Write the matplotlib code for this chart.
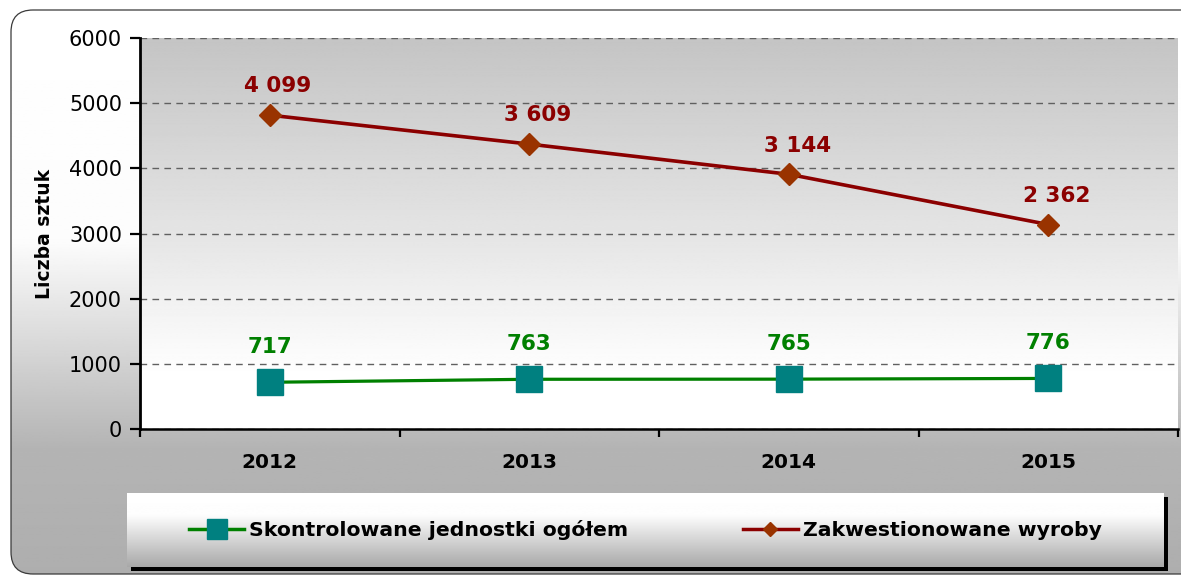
import numpy as np
import matplotlib
matplotlib.use("Agg")
import matplotlib.pyplot as plt
from matplotlib.patches import FancyBboxPatch, Rectangle
from matplotlib.lines import Line2D

# data
years = ["2012", "2013", "2014", "2015"]
skontrolowane = [717, 763, 765, 776]
zakwestionowane = [4099, 3609, 3144, 2362]
series_names = ["Skontrolowane jednostki ogółem", "Zakwestionowane wyroby"]
y_ticks = [0, 1000, 2000, 3000, 4000, 5000, 6000]

W, H = 1181, 575


def box(x0, y0, x1, y1):
    # pixel box (top-left origin) -> figure fraction
    return [x0 / W, 1 - y1 / H, (x1 - x0) / W, (y1 - y0) / H]


def vgrad(levels, n=400):
    # vertical gray ramp, levels given as (position 0..1, gray 0..255)
    t = np.linspace(0, 1, n)
    pos, val = zip(*levels)
    g = np.interp(t, pos, val) / 255.0
    return np.repeat(g[:, None], 2, axis=1)


plt.rcParams["font.family"] = ["DejaVu Sans"]
fig = plt.figure(figsize=(W / 100, H / 100), dpi=100)

# ---- outer chart area with rounded frame
ax_bg = fig.add_axes([0, 0, 1, 1])
ax_bg.set_xlim(0, W)
ax_bg.set_ylim(H, 0)
ax_bg.axis("off")
frame = FancyBboxPatch((11, 10), 1215 - 11, 574 - 10,
                       boxstyle="round,pad=0,rounding_size=22",
                       fc="none", ec="#3a3a3a", lw=0.9, zorder=3)
ax_bg.add_patch(frame)
im = ax_bg.imshow(vgrad([(0, 255), (0.42, 252), (0.78, 180), (1, 174)]),
                  extent=(0, W, H, 0), aspect="auto", cmap="gray",
                  vmin=0, vmax=1, zorder=1)
im.set_clip_path(frame)

# legend shadow
ax_bg.add_patch(Rectangle((131, 497), 1168 - 131, 571 - 497, fc="black", ec="none", zorder=2))

# ---- main plot
ax = fig.add_axes(box(140, 38, 1178, 429))
x = np.arange(len(years))
ax.set_xlim(-0.5, len(years) - 0.5)
ax.set_ylim(0, 6000)
ax.imshow(vgrad([(0, 196), (0.45, 225), (0.85, 254), (1, 255)]),
          extent=(-0.5, len(years) - 0.5, 0, 6000), aspect="auto",
          cmap="gray", vmin=0, vmax=1, zorder=-1)

# stacked line chart: second series sits on top of the first
green = np.array(skontrolowane)
red = green + np.array(zakwestionowane)

ax.plot(x, green, color="#008000", lw=2.3, marker="s", ms=18.5,
        mfc="#008080", mec="#008080", zorder=4)
ax.plot(x, red, color="#8B0000", lw=2.6, marker="D", ms=11,
        mfc="#993300", mec="#993300", zorder=4)

for xi, yi, v in zip(x, green, skontrolowane):
    ax.annotate(f"{v:,}".replace(",", " "), (xi, yi), xytext=(0, 18),
                textcoords="offset points", ha="center", va="bottom",
                fontsize=15.5, fontweight="bold", color="#008000", zorder=5)
for xi, yi, v in zip(x, red, zakwestionowane):
    ax.annotate(f"{v:,}".replace(",", " "), (xi, yi), xytext=(6, 13.5),
                textcoords="offset points", ha="center", va="bottom",
                fontsize=15.5, fontweight="bold", color="#8B0000", zorder=5)

ax.set_yticks(y_ticks)
ax.set_yticklabels([str(t) for t in y_ticks])
ax.tick_params(axis="y", length=7, width=1.6, pad=6, labelsize=15)
ax.set_xticks(x)
ax.set_xticklabels(years, fontweight="bold")
ax.tick_params(axis="x", which="major", length=0, pad=17, labelsize=14.5)
ax.set_xticks(np.arange(len(years) + 1) - 0.5, minor=True)
ax.tick_params(axis="x", which="minor", length=6, width=1.6)

ax.yaxis.grid(True, color="#606060", lw=1.0, linestyle=(0, (4.8, 3.8)))
ax.set_axisbelow(True)
for s in ["top", "right"]:
    ax.spines[s].set_visible(False)
ax.spines["left"].set_linewidth(2.0)
ax.spines["bottom"].set_linewidth(1.8)
ax.set_ylabel("Liczba sztuk", fontsize=13.5, fontweight="bold", labelpad=11)

# ---- legend box
ax_leg = fig.add_axes(box(127, 493, 1164, 567))
ax_leg.imshow(vgrad([(0, 255), (0.3, 253), (1, 168)]), extent=(0, 1, 0, 1),
              aspect="auto", cmap="gray", vmin=0, vmax=1)
ax_leg.axis("off")
handles = [
    Line2D([], [], color="#008000", lw=2.5, marker="s", ms=14,
           mfc="#008080", mec="#008080"),
    Line2D([], [], color="#8B0000", lw=2.5, marker="D", ms=7.5,
           mfc="#993300", mec="#993300"),
]
ax_leg.legend(handles, series_names, loc="center", ncol=2, frameon=False,
              prop={"size": 14.7, "weight": "bold"}, handlelength=2.7,
              handletextpad=0.25, columnspacing=5.6, numpoints=1)

fig.savefig("out.png", dpi=100)
